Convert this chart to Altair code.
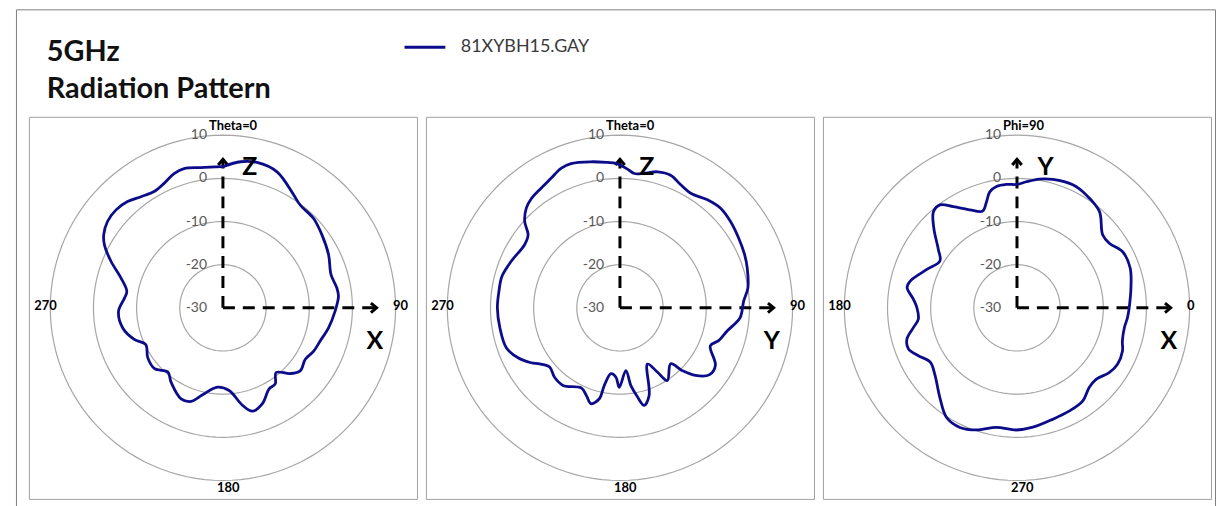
import altair as alt
import pandas as pd

# ---------------- data ----------------
TITLE_LINES = ["5GHz", "Radiation Pattern"]
SERIES = "81XYBH15.GAY"

RING_LEVELS = [10, 0, -10, -20]
TICK_VALUES = [10, 0, -10, -20, -30]
TICK_LABELS = ["10", "0", "-10", "-20", "-30"]

# Panel 1 (Theta cut, angle clockwise from top), gain in dB
P1_ANGLE = [0, 6.9, 13.2, 21.7, 32, 36.9, 45.3, 53.6, 63.3, 72.9, 80.1, 84.3, 91.7, 100.7,
            108.8, 115.5, 122, 129.2, 134.3, 140.6, 145.5, 150.3, 157.6, 164.1, 168.7, 175.7,
            183.9, 193.2, 198.8, 204.7, 214.9, 220.6, 228.3, 236.5, 244.6, 250.4, 258.8, 268.2,
            275.8, 279.8, 286.3, 292.6, 298, 301.5, 306.8, 312.5, 318.1, 323.6, 329.4, 334.7,
            340, 344.4, 351, 357]
P1_DB = [2.7, 4.1, 4.6, 3.9, 0.9, -0.2, -0.5, -1.5, -2.6, -3.8, -3.2, -3.1, -4.0, -5.1,
         -6.2, -6.7, -7.5, -6.9, -8.2, -10.6, -8.6, -8.4, -6.0, -5.1, -7.0, -10.8,
         -11.6, -9.3, -7.1, -6.8, -9.0, -10.4, -8.8, -9.1, -10.2, -8.2, -6.3, -5.8,
         -7.1, -7.4, -5.4, -1.9, 1.1, 2.4, 3.4, 3.6, 3.1, 2.0, 1.3, 1.9,
         3.1, 3.5, 2.9, 2.7]

# Panel 2 (Theta cut, angle clockwise from top)
P2_ANGLE = [0, 3.1, 6.1, 10.2, 15.4, 20.9, 26.3, 31.7, 39, 45.3, 52, 59.6, 66.9, 72.6, 81.1,
            86.9, 94.8, 102.2, 108.4, 112.7, 121, 126.7, 131.8, 135.2, 137.8, 146.9, 149.8,
            153.9, 161.6, 166.1, 168.9, 172, 174.6, 180.5, 183.3, 187.7, 191.4, 192.8, 196.8,
            201.1, 205.8, 216.3, 223.3, 229.9, 235.1, 238.3, 243.9, 250.7, 260.6, 270, 277.8,
            285, 293.2, 303.5, 308.5, 312.2, 316.8, 321, 326.6, 332, 337.1, 341.3, 348.8,
            355.2, 358.4]
P2_DB = [3.1, 2.2, 1.3, 1.7, 2.7, 2.9, 1.8, 1.2, 2.2, 2.8, 2.5, 1.9, 1.4, 0.9, 0.0,
         -1.3, -2.1, -4.6, -5.9, -7.3, -4.2, -4.1, -6.5, -9.5, -12.5, -9.9, -12.8,
         -15.5, -8.6, -6.7, -9.0, -11.8, -15.4, -11.6, -13.9, -14.6, -11.7, -8.4, -6.8,
         -8.3, -9.4, -7.7, -7.9, -8.7, -7.3, -5.8, -3.7, -2.1, -1.8, -1.6, -1.7,
         -1.7, -2.6, -3.5, -2.8, -0.2, 1.7, 2.6, 3.2, 4.0, 5.1, 5.3, 4.5,
         3.8, 3.5]

# Panel 3 (Phi cut, angle counter-clockwise from right)
P3_ANGLE = [0, 9.9, 19.4, 28.1, 35, 40.5, 49.5, 58.5, 65.6, 74.4, 80.1, 85.8, 90, 94.9,
            99.6, 103.2, 106, 109.6, 115.7, 122.2, 126.8, 131, 136.2, 143.4, 148.7, 156.9,
            165.9, 169.5, 175.2, 179.8, 186.5, 190.7, 195.8, 200.8, 205.9, 212, 219, 229.3,
            237.3, 244.5, 251.7, 260.2, 269.7, 277.6, 287.9, 297, 305.3, 312.2, 317.9, 324.9,
            330.7, 337.8, 342.5, 349.5, 354.9]
P3_DB = [-4.0, -3.2, -2.2, -2.3, -3.9, -3.9, -0.6, 0.7, 1.3, 0.9, 0.3, -0.7, -1.4, -1.3,
         -1.5, -2.4, -4.4, -6.2, -4.8, -2.3, -0.2, -0.5, -3.3, -7.3, -9.1, -7.3,
         -4.5, -4.1, -5.9, -6.8, -7.0, -5.6, -3.5, -3.1, -4.6, -6.3, -5.5, -2.6,
         0.2, 0.7, -0.2, -1.9, -1.7, -2.1, -2.9, -3.2, -3.6, -5.1, -5.3, -3.9,
         -3.3, -3.6, -4.4, -4.7, -4.3]

PANEL_TITLES = ["Theta=0", "Theta=0", "Phi=90"]
PANEL_RIGHT = ["90", "90", "0"]
PANEL_BOTTOM = ["180", "180", "270"]
PANEL_LEFT = ["270", "270", "180"]
PANEL_UP_LETTER = ["Z", "Z", "Y"]
PANEL_RIGHT_LETTER = ["X", "Y", "X"]

# ---------------- styling / geometry ----------------
R_MIN = -30
R_OUT = 40.0                      # 10 dB ring, in scale units
PX = 173.5 / R_OUT                # pixels per unit
W, H = 390, 384
XD = W / 2 / PX
YD = H / 2 / PX
LINE_COLOR = "#0c0c8a"
RING_COLOR = "#a6a6a6"
FONT = "Lato"

xs = alt.Scale(domain=[-XD, XD], nice=False, zero=False)
ys = alt.Scale(domain=[-YD, YD], nice=False, zero=False)
X = alt.X("x:Q", scale=xs, axis=None)
Y = alt.Y("y:Q", scale=ys, axis=None)

ring_df = pd.DataFrame([(lv, a) for lv in RING_LEVELS for a in range(0, 361, 3)],
                       columns=["level", "a"])
tick_df = pd.DataFrame({"v": TICK_VALUES, "t": TICK_LABELS})

LEGEND = alt.Legend(orient="none", legendX=376, legendY=16, title=None,
                    symbolType="stroke", symbolSize=1681, symbolStrokeWidth=3,
                    labelFont=FONT, labelFontSize=18, labelColor="#3a3a3a",
                    labelOffset=14, padding=0)


def make_panel(k, angles, dbs, clockwise_from_top):
    if clockwise_from_top:
        xe = "datum.r * sin(datum.angle * PI / 180)"
        ye = "datum.r * cos(datum.angle * PI / 180)"
    else:
        xe = "datum.r * cos(datum.angle * PI / 180)"
        ye = "datum.r * sin(datum.angle * PI / 180)"

    rings = alt.Chart(ring_df).transform_calculate(
        r=f"datum.level - ({R_MIN})",
        x="datum.r * sin(datum.a * PI / 180)",
        y="datum.r * cos(datum.a * PI / 180)",
    ).mark_line(color=RING_COLOR, strokeWidth=1.2).encode(
        x=X, y=Y, detail="level:N", order="a:Q")

    ticks = alt.Chart(tick_df).transform_calculate(
        x="0", y=f"datum.v - ({R_MIN})"
    ).mark_text(align="right", baseline="middle", dx=-16, font=FONT, fontSize=14,
                color="#595959").encode(x=X, y=Y, text="t:N")

    df = pd.DataFrame({"angle": angles + [angles[0] + 360], "db": dbs + [dbs[0]]})
    df["i"] = range(len(df))
    df["series"] = SERIES
    curve = alt.Chart(df).transform_calculate(
        r=f"max(datum.db - ({R_MIN}), 0)", x=xe, y=ye
    ).mark_line(strokeWidth=2.8, interpolate="catmull-rom").encode(
        x=X, y=Y, order="i:Q",
        color=alt.Color("series:N", scale=alt.Scale(domain=[SERIES], range=[LINE_COLOR]),
                        legend=LEGEND))

    # dashed axis arrows
    arr_df = pd.DataFrame({"x": [0, 0], "y": [0, 0], "x2": [0, 35.6], "y2": [34.4, 0]})
    arrows = alt.Chart(arr_df).mark_rule(color="black", strokeWidth=3,
                                         strokeDash=[12, 8]).encode(
        x=X, y=Y, x2="x2:Q", y2="y2:Q")
    up_head = alt.Chart(pd.DataFrame({"x": [0], "y": [34.4]})).mark_point(
        shape="M -1 1.2 L 0 0 L 1 1.2", size=90, filled=False, color="black",
        strokeWidth=3, opacity=1).encode(x=X, y=Y)
    right_head = alt.Chart(pd.DataFrame({"x": [35.6], "y": [0]})).mark_point(
        shape="M -1.2 -1 L 0 0 L -1.2 1", size=90, filled=False, color="black",
        strokeWidth=3, opacity=1).encode(x=X, y=Y)

    up_pos = (6.2, 32.7) if PANEL_UP_LETTER[k] == "Z" else (6.6, 32.7)
    letters_df = pd.DataFrame({"t": [PANEL_UP_LETTER[k], PANEL_RIGHT_LETTER[k]],
                               "x": [up_pos[0], 35.2], "y": [up_pos[1], -7.8]})
    letters = alt.Chart(letters_df).mark_text(
        font=FONT, fontWeight="bold", fontSize=25, color="black",
        align="center", baseline="middle").encode(x=X, y=Y, text="t:N")

    def lab(text, x, y, **kw):
        return alt.Chart(pd.DataFrame({"t": [text], "x": [x], "y": [y]})).mark_text(
            font=FONT, fontWeight="bold", fontSize=13, color="black", **kw
        ).encode(x=X, y=Y, text="t:N")

    top = lab(PANEL_TITLES[k], 0, R_OUT, align="left", baseline="middle", dx=-14, dy=-9)
    right = lab(PANEL_RIGHT[k], R_OUT, 0, align="left", baseline="middle", dx=-2.7, dy=-1.5)
    bottom = lab(PANEL_BOTTOM[k], 0, -R_OUT, align="left", baseline="middle", dx=-6, dy=8)
    left = lab(PANEL_LEFT[k], -R_OUT, 0, align="right", baseline="middle", dx=6.5, dy=-1.5)

    return alt.layer(rings, ticks, arrows, up_head, right_head, curve, letters,
                     top, right, bottom, left).properties(
        width=W, height=H,
        view=alt.ViewBackground(stroke="#a0a0a0", strokeWidth=1))


p1 = make_panel(0, P1_ANGLE, P1_DB, True)
p2 = make_panel(1, P2_ANGLE, P2_DB, True)
p3 = make_panel(2, P3_ANGLE, P3_DB, False)

# header: outer frame + title
one = pd.DataFrame({"t": ["\n".join(TITLE_LINES)]})
frame = alt.Chart(one).mark_rect(fill="transparent", stroke="#7f7f7f", strokeWidth=1).encode(
    x=alt.value(-12.5), x2=alt.value(1192.5), y=alt.value(0.5), y2=alt.value(540))
title = alt.Chart(one).mark_text(
    font=FONT, fontWeight="bold", fontSize=29, color="#111111", align="left",
    baseline="alphabetic", lineBreak="\n", lineHeight=37).encode(
    x=alt.value(18), y=alt.value(52), text="t:N")
header = alt.layer(frame, title).properties(width=1180, height=100,
                                             view=alt.ViewBackground(stroke=None))

row = alt.hconcat(p1, p2, p3, spacing=7)
chart = alt.vconcat(header, row, spacing=8, bounds="flush").resolve_scale(
    color="shared").resolve_legend(color="shared").properties(
    padding={"left": 8, "top": 0, "right": 0, "bottom": 0},
    background="white").configure_view(stroke=None)

chart.save("out.html", embed_options={"renderer": "svg", "actions": False})
